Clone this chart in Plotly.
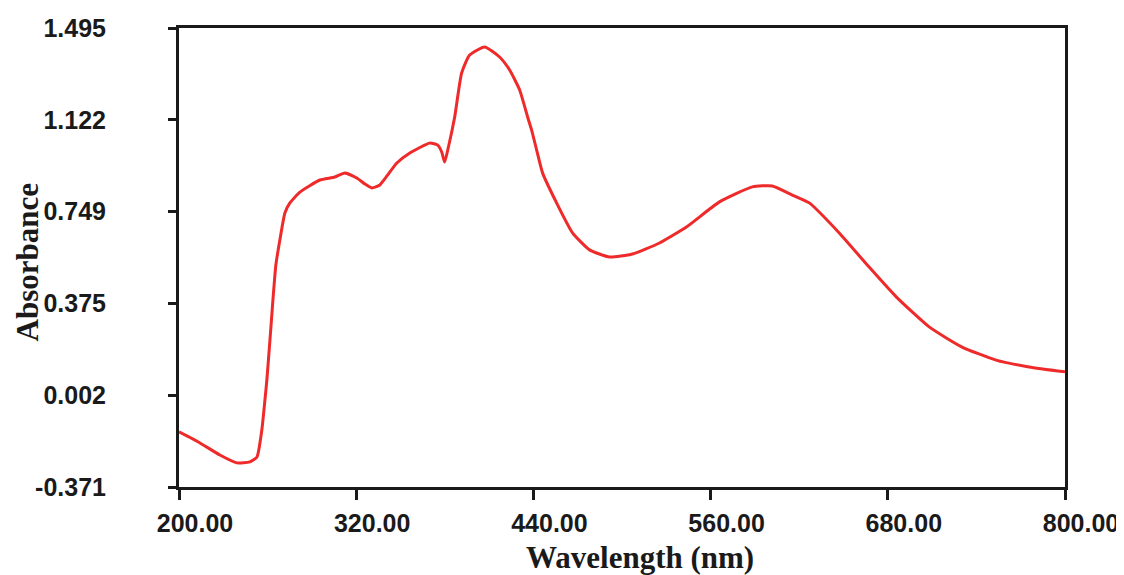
import plotly.graph_objects as go

wavelength = [200, 214.2, 227.7, 239.2, 248.0, 252.8, 256.1, 258.2, 259.5, 261.6,
              263.6, 265.6, 268.3, 271.7, 275.1, 281.9, 295.4, 305.5, 312.3, 320.4,
              325.8, 330.6, 336.0, 347.5, 356.3, 369.8, 375.2, 377.9, 379.9, 382.0,
              386.7, 391.4, 396.8, 407.0, 417.1, 423.9, 430.7, 436.1, 438.8, 442.2,
              446.2, 455.7, 466.5, 478.0, 491.6, 507.1, 525.4, 543.6, 566.0, 588.3,
              601.8, 615.3, 626.8, 647.1, 667.4, 685.7, 708.0, 730.3, 753.3, 775.7, 800]
absorbance = [-0.147, -0.192, -0.241, -0.273, -0.269, -0.249, -0.139, -0.017, 0.064, 0.227,
              0.389, 0.532, 0.633, 0.743, 0.784, 0.828, 0.877, 0.889, 0.906, 0.885,
              0.861, 0.845, 0.857, 0.946, 0.987, 1.027, 1.019, 0.991, 0.950, 0.999,
              1.133, 1.312, 1.385, 1.418, 1.377, 1.324, 1.243, 1.133, 1.080, 0.999,
              0.906, 0.784, 0.662, 0.593, 0.564, 0.576, 0.621, 0.686, 0.788, 0.849,
              0.853, 0.816, 0.784, 0.662, 0.523, 0.402, 0.280, 0.198, 0.145, 0.117, 0.097]

x_ticks = [200, 320, 440, 560, 680, 800]
x_tick_labels = ["200.00", "320.00", "440.00", "560.00", "680.00", "800.00"]
y_ticks = [-0.371, 0.002, 0.375, 0.749, 1.122, 1.495]
y_tick_labels = ["-0.371", "0.002", "0.375", "0.749", "1.122", "1.495"]

fig = go.Figure()
fig.add_trace(go.Scatter(
    x=wavelength, y=absorbance, mode="lines",
    line=dict(color="#EE2A2A", width=3, shape="spline", smoothing=0.5),
    showlegend=False, hoverinfo="skip",
))

tick_font = dict(family="Liberation Sans", size=25, color="#1a1a1a", weight="bold")
xtitle_font = dict(family="Liberation Serif", size=31, color="#1a1a1a", weight="bold")
ytitle_font = dict(family="Liberation Serif", size=31, color="#1a1a1a", weight="bold")

# page body has an 8px margin, so the figure is drawn 8px smaller and offset
fig.update_layout(
    width=1116, height=567,
    margin=dict(l=171, r=59, t=20, b=88, autoexpand=False),
    paper_bgcolor="white", plot_bgcolor="white",
    xaxis=dict(
        range=[200, 800], tickvals=x_ticks, ticktext=x_tick_labels,
        showgrid=False, zeroline=False, automargin=False,
        showline=True, linecolor="#1a1a1a", linewidth=3, mirror=True,
        ticks="outside", ticklen=10, tickwidth=3, tickcolor="#1a1a1a",
        tickfont=tick_font, ticklabelshift=16, ticklabelstandoff=2,
    ),
    yaxis=dict(
        range=[-0.371, 1.495], tickvals=y_ticks, ticktext=y_tick_labels,
        showgrid=False, zeroline=False, automargin=False,
        showline=True, linecolor="#1a1a1a", linewidth=3, mirror=True,
        ticks="outside", ticklen=8, tickwidth=3, tickcolor="#1a1a1a",
        tickfont=tick_font, ticklabelstandoff=57,
    ),
    annotations=[
        dict(text="Wavelength (nm)", xref="paper", yref="paper",
             x=(640 - 179) / 886, y=(487 - 577) / 459, xanchor="center", yanchor="bottom",
             showarrow=False, font=xtitle_font),
        dict(text="Absorbance", xref="paper", yref="paper",
             x=-171 / 886, y=(487 - 263) / 459, xanchor="left", yanchor="middle",
             textangle=-90, showarrow=False, font=ytitle_font, borderpad=0),
    ],
)

fig.write_html("out.html")
